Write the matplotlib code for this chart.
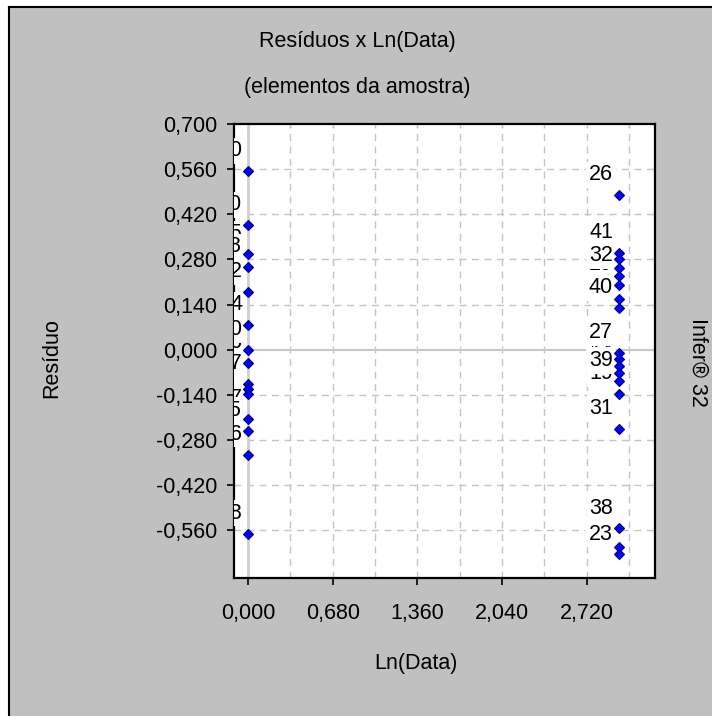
import matplotlib
matplotlib.use("Agg")
import matplotlib.pyplot as plt
from matplotlib.patches import Rectangle
from matplotlib.lines import Line2D

plt.rcParams['font.family'] = ['Liberation Sans', 'DejaVu Sans']

# Residuals per sample element: (element id, ln(date), residual)
left_ids = [10, 20, 15, 28, 2, 4, 30, 6, 17, 3, 1, 7, 25, 36, 18]
left_x = [0.0] * len(left_ids)
left_res = [0.554, 0.387, 0.297, 0.257, 0.180, 0.077, 0.000, -0.040,
            -0.105, -0.121, -0.136, -0.214, -0.251, -0.325, -0.570]

right_ids = [26, 41, 22, 24, 32, 29, 21, 40, 27, 11, 12, 14, 39, 19,
             31, 38, 13, 23]
right_x = [2.98] * len(right_ids)
right_res = [0.480, 0.300, 0.282, 0.254, 0.229, 0.201, 0.158, 0.130,
             -0.009, -0.028, -0.050, -0.071, -0.096, -0.136, -0.245,
             -0.554, -0.613, -0.635]

ids = left_ids + right_ids
ln_data = left_x + right_x
residuals = left_res + right_res

x_ticks = [0.0, 0.68, 1.36, 2.04, 2.72]
x_labels = ["0,000", "0,680", "1,360", "2,040", "2,720"]
y_ticks = [0.70, 0.56, 0.42, 0.28, 0.14, 0.0, -0.14, -0.28, -0.42, -0.56]
y_labels = ["0,700", "0,560", "0,420", "0,280", "0,140", "0,000",
            "-0,140", "-0,280", "-0,420", "-0,560"]
x_grid = [0.34, 0.68, 1.02, 1.36, 1.70, 2.04, 2.38, 2.72, 3.06]
y_grid = [0.56, 0.42, 0.28, 0.14, -0.14, -0.28, -0.42, -0.56]

W, H = 712, 716
FS = 15.5
fig = plt.figure(figsize=(W / 100, H / 100), dpi=100)
fig.patch.set_facecolor("white")

# grey panel with a dark edge on top and left
fig.add_artist(Rectangle((9 / W, 0), 1 - 9 / W, (H - 7) / H,
                         transform=fig.transFigure, fc="#c0c0c0",
                         ec="none", zorder=0))
fig.add_artist(Line2D([9 / W, 9 / W], [0, (H - 7) / H],
                      transform=fig.transFigure, color="black", lw=1.5))
fig.add_artist(Line2D([9 / W, 1], [(H - 7) / H, (H - 7) / H],
                      transform=fig.transFigure, color="black", lw=1.5))

ax = fig.add_axes([234 / W, (H - 578) / H, (655 - 234) / W, (578 - 124) / H])
ax.set_facecolor("white")
ax.set_xlim(-0.113, 3.27)
ax.set_ylim(-0.708, 0.70)

for gx in x_grid:
    ax.axvline(gx, color="#c4c4c4", lw=1.0, ls=(0, (5, 4)), zorder=1)
for gy in y_grid:
    ax.axhline(gy, color="#c4c4c4", lw=1.0, ls=(0, (5, 4)), zorder=1)
ax.axvline(0.0, color="#cfcfcf", lw=2.0, zorder=1)
ax.axhline(0.0, color="#c8c8c8", lw=1.5, zorder=1)

ax.set_xticks(x_ticks)
ax.set_xticklabels(x_labels)
ax.set_yticks(y_ticks)
ax.set_yticklabels(y_labels)
ax.tick_params(axis="x", length=5, width=1.2, pad=13, labelsize=FS)
ax.tick_params(axis="y", length=5, width=1.2, pad=7, labelsize=FS)
for s in ax.spines.values():
    s.set_linewidth(1.6)
    s.set_color("black")

# point labels, drawn in id order with an opaque background
order = sorted(range(len(ids)), key=lambda i: ids[i])
for i in order:
    ax.annotate(str(ids[i]), (ln_data[i], residuals[i]),
                xytext=(-4.3, 14.5), textcoords="offset points",
                ha="right", va="center", fontsize=FS, color="black",
                bbox=dict(boxstyle="square,pad=0.12", fc="white", ec="none"),
                annotation_clip=True, clip_on=True, zorder=3)

ax.plot(ln_data, residuals, ls="none", marker="D", ms=5.6,
        mfc="#0000ff", mec="#00007a", mew=0.8, zorder=5, clip_on=False)

fig.text(357 / W, 1 - 41 / H, "Resíduos x Ln(Data)", ha="center",
         va="center", fontsize=FS)
fig.text(357 / W, 1 - 88 / H, "(elementos da amostra)", ha="center",
         va="center", fontsize=FS)
fig.text(416 / W, 1 - 663 / H, "Ln(Data)", ha="center", va="center",
         fontsize=FS)
fig.text(52 / W, 1 - 358 / H, "Resíduo", ha="center", va="center",
         rotation=90, fontsize=FS)
fig.text(698 / W, 1 - 362 / H, "Infer® 32", ha="center", va="center",
         rotation=270, fontsize=FS)

fig.savefig("out.png", dpi=100, facecolor=fig.get_facecolor())
